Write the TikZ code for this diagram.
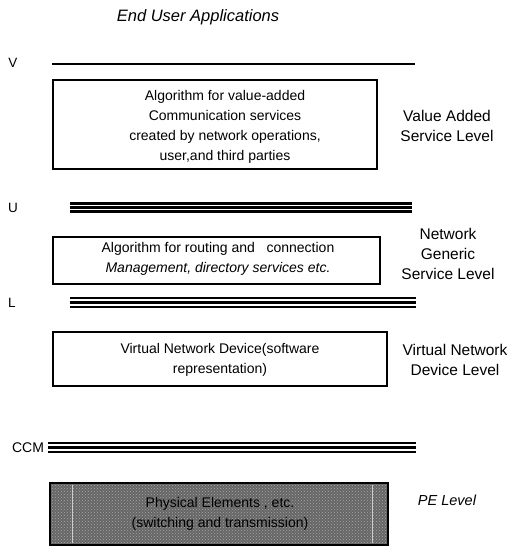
\documentclass[tikz,border=0pt]{standalone}
\usepackage{fontspec}
\setmainfont{Liberation Sans}
\usetikzlibrary{patterns}
\begin{document}
\begin{tikzpicture}[x=1pt,y=-1pt,
  txt/.style={font=\fontsize{14}{20}\selectfont, align=center, inner sep=0pt},
  side/.style={font=\fontsize{15.5}{20}\selectfont, align=center, inner sep=0pt},
  tag/.style={font=\fontsize{13.5}{16}\selectfont, inner sep=0pt},
  layerbox/.style={draw=black, line width=1.6pt},
  bus/.style={line width=2.1pt}]
\useasboundingbox (0,0) rectangle (518,547);

% header
\node[inner sep=0pt, font=\fontsize{16.5}{20}\selectfont\itshape] (top) at (198,17) {End User Applications};

% V interface
\node[tag] (vlab) at (13,63) {V};
\coordinate (v1) at (52,64);
\coordinate (v2) at (415,64);
\draw[line width=1.8pt] (v1) -- (v2);

% value added service level
\draw[layerbox] (53,80) rectangle (377,169);
\node[txt] (vas) at (225,127) {Algorithm for value-added\\Communication services\\created by network operations,\\user,and third parties};
\node[side] (vaslab) at (447,126) {Value Added\\Service Level};

% U interface
\node[tag] (ulab) at (13,208) {U};
\foreach \yy in {203.5,207.5,211.5} \draw[bus] (70,\yy) -- (412,\yy);

% network generic service level
\draw[layerbox] (53,237) rectangle (380,284);
\node[txt] (ngs) at (218,259) {Algorithm for routing and\ \ \ connection\\\itshape Management, directory services etc.};
\node[side] (ngslab) at (448,254) {Network\\Generic\\Service Level};

% L interface
\node[tag] (llab) at (12,303) {L};
\foreach \yy in {298,302.5,307} \draw[bus] (70,\yy) -- (416,\yy);

% virtual network device level
\draw[layerbox] (53,332) rectangle (387,386);
\node[txt] (vnd) at (220,360) {Virtual Network Device(software\\representation)};
\node[side] (vndlab) at (455,360) {Virtual Network\\Device Level};

% CCM interface
\node[tag, font=\fontsize{14}{16}\selectfont] (ccmlab) at (28,448) {CCM};
\foreach \yy in {443,447.5,452} \draw[bus] (48,\yy) -- (416,\yy);

% physical element level (grainy dark fill)
\fill[black!60] (50,483) rectangle (388,545);
\fill[pattern=crosshatch dots, pattern color=black!35] (50,483) rectangle (388,545);
\draw[layerbox] (50,483) rectangle (388,545);
\draw[black!20, line width=0.8pt] (72,485) -- (72,543);
\draw[black!20, line width=0.8pt] (372,485) -- (372,543);
\node[txt, text=black] (pe) at (220,514) {Physical Elements , etc.\\(switching and transmission)};
\node[side, font=\fontsize{14.5}{18}\selectfont\itshape] (pelab) at (447,500) {PE Level};
\end{tikzpicture}
\end{document}
